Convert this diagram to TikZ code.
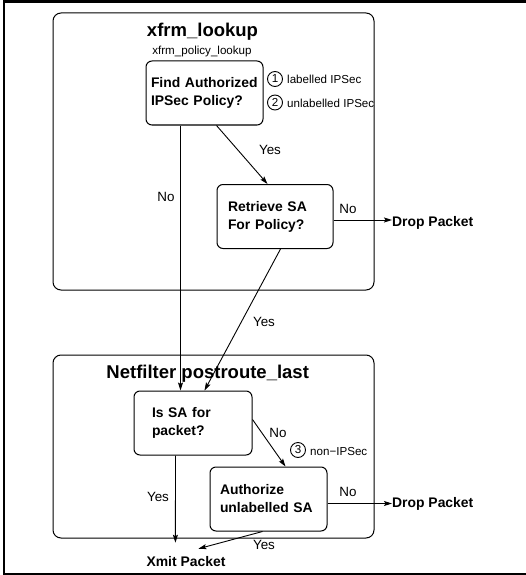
\documentclass[tikz,border=0pt]{standalone}
\usepackage{fontspec}
\setmainfont{Liberation Sans}
\usetikzlibrary{arrows.meta,calc}

\newcommand\dgfont{\fontsize{13.9}{18}\bfseries\selectfont}
\newcommand\ttlfont{\fontsize{18.5}{22}\bfseries\selectfont}
\newcommand\lblfont{\fontsize{13.4}{16}\selectfont}
\newcommand\notefont{\fontsize{11.6}{14}\selectfont}

\tikzset{
  flow/.style={line width=0.9pt, -{Stealth[length=8pt,width=5pt,inset=1.5pt]}},
  stage/.style={draw, line width=1pt, rounded corners=8pt, inner sep=0pt},
  decision/.style={draw, line width=1pt, rounded corners=6pt, align=left,
    font=\dgfont, inner ysep=0pt, minimum height=64pt},
  title/.style={font=\ttlfont, inner sep=0pt, anchor=base},
  term/.style={font=\dgfont, inner sep=0pt},
  lbl/.style={font=\lblfont, inner sep=0pt},
  note/.style={font=\notefont, inner sep=0pt, anchor=base west},
  numcirc/.style={draw, circle, line width=0.9pt, minimum size=15pt,
    inner sep=0pt, font=\notefont},
}

\begin{document}
\begin{tikzpicture}[x=1pt, y=-1pt]
\useasboundingbox (0,0) rectangle (526,575);

% page frame
\draw[line width=2.5pt] (530,1.6) -- (3.8,1.6) -- (3.8,574.2) -- (530,574.2);

% stage containers
\node[stage, minimum width=321pt, minimum height=277pt] (upper) at (213.5,151.5) {};
\node[stage, minimum width=321pt, minimum height=183pt] (lower) at (213.5,446.5) {};

% xfrm_lookup stage
\node[title] (uptitle) at (202.5,37) {xfrm\_lookup};
\node[font=\notefont, inner sep=0pt, anchor=base] (policy) at (202,55) {xfrm\_policy\_lookup};
\node[decision, text width=107pt, inner xsep=5pt] (A) at (204.5,93)
  {Find Authorized\\IPSec Policy?};
\node[decision, text width=94pt, inner xsep=11pt] (B) at (275,216.5)
  {Retrieve SA\\For Policy?};

\node[numcirc] (n1) at (275,79) {1};
\node[note] (t1) at (287,84) {labelled IPSec};
\node[numcirc] (n2) at (275,102.5) {2};
\node[note] (t2) at (287,107.5) {unlabelled IPSec};

% postroute stage
\node[title] (lowtitle) at (207.7,378.5) {Netfilter postroute\_last};
\node[decision, text width=82pt, inner xsep=18pt] (C) at (193,423)
  {Is SA for\\packet?};
\node[decision, text width=97pt, inner xsep=10pt] (D) at (268.5,499)
  {Authorize\\unlabelled SA};

\node[numcirc] (n3) at (298,450) {3};
\node[note] (t3) at (310,455) {non−IPSec};

% outcomes
\node[term, anchor=base west] (drop1) at (392,226) {Drop Packet};
\node[term, anchor=base west] (drop2) at (392,507.5) {Drop Packet};
\node[term, anchor=base] (xmit) at (186,566) {Xmit Packet};

% connectors
\draw[flow] ($(A.south west)+(35,0)$) -- ($(C.north west)+(47,0)$);
\draw[flow] ($(A.south west)+(71,0)$) -- ($(B.north west)+(51,0)$);
\path ($(B.south east)+(0,-29)$) coordinate (bx);
\draw[flow] (bx) -- (bx -| drop1.west);
\draw[flow] ($(B.south west)+(64,0)$) -- ($(C.north west)+(71,0)$);
\draw[flow] ($(C.north east)+(0,29)$) -- ($(D.north west)+(76,0)$);
\draw[flow] ($(C.south west)+(42,0)$) -- ($(xmit.north west)+(29,-13)$);
\path ($(D.south east)+(0,-28)$) coordinate (dx);
\draw[flow] (dx) -- (dx -| drop2.west);
\draw[flow] ($(D.south west)+(53,0)$) -- ($(xmit.north west)+(52,-7)$);

% connector labels
\node[lbl] (l1) at (166,197) {No};
\node[lbl] (l2) at (270,150) {Yes};
\node[lbl] (l3) at (348,209) {No};
\node[lbl] (l4) at (264,322) {Yes};
\node[lbl] (l5) at (278,433) {No};
\node[lbl] (l6) at (158,497) {Yes};
\node[lbl] (l7) at (348,492) {No};
\node[lbl] (l8) at (264,545) {Yes};
\end{tikzpicture}
\end{document}
